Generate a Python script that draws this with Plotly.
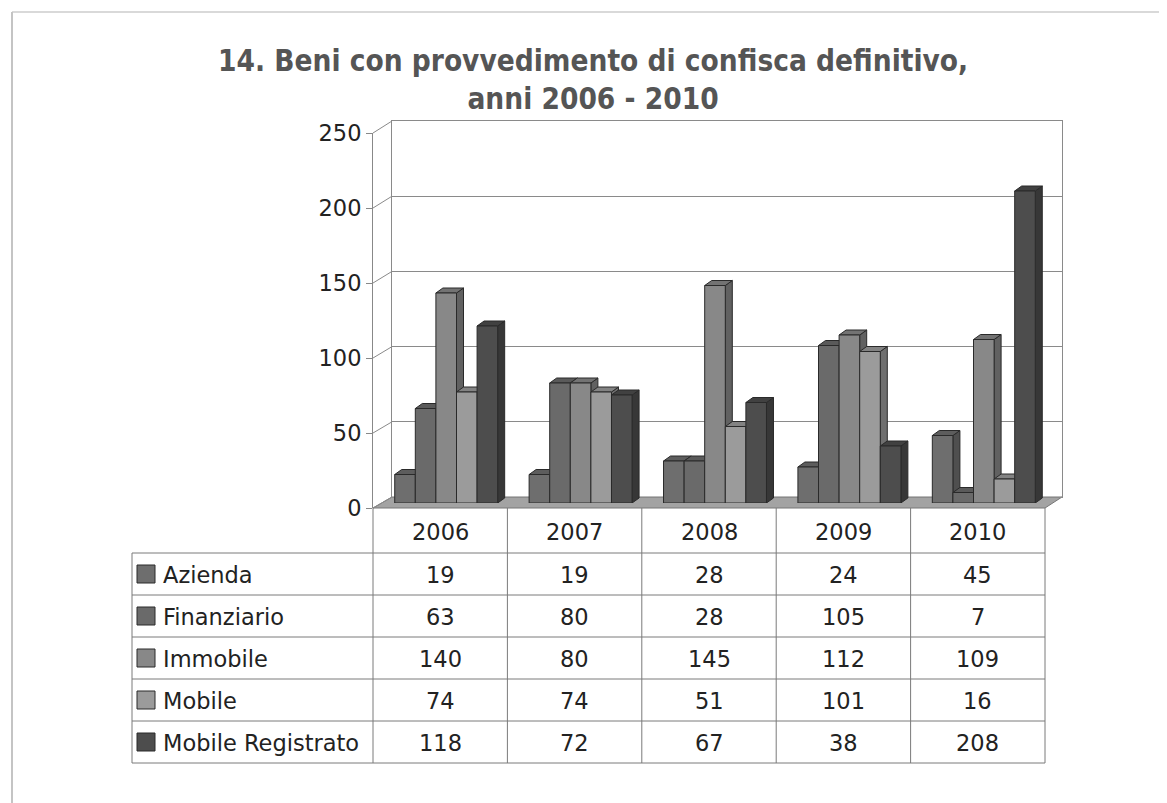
import plotly.graph_objects as go

# ---------------- data ----------------
years = ["2006", "2007", "2008", "2009", "2010"]
series_names = ["Azienda", "Finanziario", "Immobile", "Mobile", "Mobile Registrato"]
azienda = [19, 19, 28, 24, 45]
finanziario = [63, 80, 28, 105, 7]
immobile = [140, 80, 145, 112, 109]
mobile = [74, 74, 51, 101, 16]
mobile_registrato = [118, 72, 67, 38, 208]
y_ticks = [0, 50, 100, 150, 200, 250]
title_text = "<b>14. Beni con provvedimento di confisca definitivo,<br>anni 2006 - 2010</b>"

series_values = [azienda, finanziario, immobile, mobile, mobile_registrato]
colors = ["#6e6e6e", "#6a6a6a", "#888888", "#9b9b9b", "#4d4d4d"]

# ---------------- geometry (window pixels; page body has an 8px margin) ----------------
OFF = 8
W, H = 1167, 803
def px(x): return (x - OFF) / W
def py(y): return 1 - (y - OFF) / H

FRONT_X, FRONT_Y0, FRONT_Y1 = 373, 508, 133     # front axis
BACK_X0, BACK_X1, BACK_Y0, BACK_Y1 = 392, 1062, 497, 121  # back wall
FRONT_XR = 1045
BAR_X0, BAR_X1, BAR_Y0, BAR_Y1 = 379, 1051, 503, 128    # bar plane
DEPTH_PX_X, DEPTH_PX_Y = 7, 5
BARGAP = 0.234
YMAX = 250

FONT = "DejaVu Sans"
FS = 22.5
TXT = "#222222"
GRID = "#8a8a8a"

def darker(hexc, f):
    r, g, b = int(hexc[1:3], 16), int(hexc[3:5], 16), int(hexc[5:7], 16)
    return "#%02x%02x%02x" % (int(r * f), int(g * f), int(b * f))

fig = go.Figure()

# empty traces so that the wall and front-axis subplots get drawn
fig.add_trace(go.Scatter(x=[None], y=[None], xaxis="x", yaxis="y", showlegend=False, hoverinfo="skip"))
fig.add_trace(go.Scatter(x=[None], y=[None], xaxis="x2", yaxis="y2", showlegend=False, hoverinfo="skip"))

n_cat = len(years)
n_ser = len(series_names)
for k, (name, vals) in enumerate(zip(series_names, series_values)):
    fig.add_trace(go.Bar(
        x=list(range(n_cat)), y=vals, name=name,
        marker=dict(color=colors[k], line=dict(color="#2a2a2a", width=1)),
        xaxis="x3", yaxis="y3", showlegend=False,
        hovertemplate=name + " %{customdata}: %{y}<extra></extra>",
        customdata=years,
    ))

shapes = []

# depth faces of bars (drawn below traces so neighbouring front faces hide them)
unit_px = (BAR_X1 - BAR_X0) / n_cat
dx = DEPTH_PX_X / unit_px
dy = DEPTH_PX_Y * YMAX / (BAR_Y0 - BAR_Y1)
bw = (1 - BARGAP) / n_ser
for k, vals in enumerate(series_values):
    side_c = darker(colors[k], 0.72)
    top_c = darker(colors[k], 0.85)
    for i, v in enumerate(vals):
        xl = i - (1 - BARGAP) / 2 + bw * k
        xr = xl + bw
        side = f"M {xr} 0 L {xr} {v} L {xr+dx} {v+dy} L {xr+dx} {dy} Z"
        top = f"M {xl} {v} L {xr} {v} L {xr+dx} {v+dy} L {xl+dx} {v+dy} Z"
        for path, c in ((side, side_c), (top, top_c)):
            shapes.append(dict(type="path", path=path, xref="x3", yref="y3",
                               fillcolor=c, line=dict(color="#2a2a2a", width=1),
                               layer="below"))

# floor
floor = (f"M {px(FRONT_X)} {py(FRONT_Y0)} L {px(FRONT_XR)} {py(FRONT_Y0)} "
         f"L {px(BACK_X1)} {py(BACK_Y0)} L {px(BACK_X0)} {py(BACK_Y0)} Z")
shapes.append(dict(type="path", path=floor, xref="paper", yref="paper",
                   fillcolor="#a3a3a3", line=dict(color="#777777", width=1), layer="below"))

# side wall diagonals
for t in y_ticks:
    yf = FRONT_Y0 - (FRONT_Y0 - FRONT_Y1) * t / YMAX
    yb = BACK_Y0 - (BACK_Y0 - BACK_Y1) * t / YMAX
    shapes.append(dict(type="line", xref="paper", yref="paper",
                       x0=px(FRONT_X), y0=py(yf), x1=px(BACK_X0), y1=py(yb),
                       line=dict(color=GRID, width=1), layer="below"))

# table grid
TAB_L = 132
ROW_TOP = 553
ROW_H = 42
HEAD_TOP = 508
col_w = (FRONT_XR - FRONT_X) / n_cat
col_edges = [FRONT_X + col_w * j for j in range(n_cat + 1)]
TAB_B = ROW_TOP + ROW_H * n_ser
TLINE = dict(color="#7a7a7a", width=1)
for r in range(n_ser + 1):
    yy = ROW_TOP + ROW_H * r
    shapes.append(dict(type="line", xref="paper", yref="paper",
                       x0=px(TAB_L), x1=px(FRONT_XR), y0=py(yy), y1=py(yy), line=TLINE))
shapes.append(dict(type="line", xref="paper", yref="paper",
                   x0=px(TAB_L), x1=px(TAB_L), y0=py(ROW_TOP), y1=py(TAB_B), line=TLINE))
for xe in col_edges:
    shapes.append(dict(type="line", xref="paper", yref="paper",
                       x0=px(xe), x1=px(xe), y0=py(HEAD_TOP), y1=py(TAB_B), line=TLINE))

# outer frame
shapes.append(dict(type="line", xref="paper", yref="paper", x0=px(12), x1=1,
                   y0=py(12), y1=py(12), line=dict(color="#cccccc", width=1.5)))
shapes.append(dict(type="line", xref="paper", yref="paper", x0=px(12), x1=px(12),
                   y0=py(12), y1=0, line=dict(color="#c4c4c4", width=2)))

annotations = []
# title
annotations.append(dict(text=title_text, x=px(593), y=py(80), xref="paper", yref="paper",
                        showarrow=False, xanchor="center", yanchor="middle",
                        font=dict(family="DejaVu Sans Condensed, DejaVu Sans", size=29.5, color="#555555")))
# header years
for j, yr in enumerate(years):
    annotations.append(dict(text=yr, x=px(col_edges[j] + col_w / 2), y=py((HEAD_TOP + ROW_TOP) / 2 + 1),
                            xref="paper", yref="paper", showarrow=False,
                            xanchor="center", yanchor="middle",
                            font=dict(family=FONT, size=FS, color=TXT)))
# rows
for r, (name, vals) in enumerate(zip(series_names, series_values)):
    yc = ROW_TOP + ROW_H * (r + 0.5)
    shapes.append(dict(type="rect", xref="paper", yref="paper",
                       x0=px(137), x1=px(155), y0=py(yc - 9), y1=py(yc + 9),
                       fillcolor=colors[r], line=dict(color="#2a2a2a", width=1)))
    annotations.append(dict(text=name, x=px(161), y=py(yc + 1), xref="paper", yref="paper",
                            showarrow=False, xanchor="left", yanchor="middle",
                            font=dict(family=FONT, size=FS, color=TXT)))
    for j, v in enumerate(vals):
        annotations.append(dict(text=str(v), x=px(col_edges[j] + col_w / 2), y=py(yc + 1),
                                xref="paper", yref="paper", showarrow=False,
                                xanchor="center", yanchor="middle",
                                font=dict(family=FONT, size=FS, color=TXT)))

fig.update_layout(
    width=W, height=H,
    margin=dict(l=0, r=0, t=0, b=0, autoexpand=False),
    paper_bgcolor="white", plot_bgcolor="rgba(0,0,0,0)",
    barmode="group", bargap=BARGAP, bargroupgap=0,
    # back wall
    xaxis=dict(domain=[px(BACK_X0), px(BACK_X1)], range=[0, 1], showgrid=False,
               showticklabels=False, ticks="", zeroline=False, automargin=False,
               showline=True, mirror=True, linecolor=GRID, linewidth=1, fixedrange=True),
    yaxis=dict(domain=[py(BACK_Y0), py(BACK_Y1)], range=[0, YMAX], tickvals=y_ticks,
               showgrid=True, gridcolor=GRID, gridwidth=1, showticklabels=False, ticks="",
               zeroline=False, showline=True, mirror=True, linecolor=GRID, fixedrange=True,
               automargin=False),
    # front axis
    xaxis2=dict(domain=[px(FRONT_X), px(FRONT_XR)], range=[0, 1], visible=False, anchor="y2",
                fixedrange=True, automargin=False),
    yaxis2=dict(domain=[py(FRONT_Y0), py(FRONT_Y1)], range=[0, YMAX], anchor="x2",
                tickvals=y_ticks, ticks="outside", ticklen=6, tickcolor="#888888",
                showline=True, linecolor="#888888", showgrid=False, zeroline=False,
                tickfont=dict(family=FONT, size=FS, color=TXT), fixedrange=True,
                automargin=False),
    # bars
    xaxis3=dict(domain=[px(BAR_X0), px(BAR_X1)], range=[-0.5, n_cat - 0.5], visible=False,
                anchor="y3", fixedrange=True, automargin=False),
    yaxis3=dict(domain=[py(BAR_Y0), py(BAR_Y1)], range=[0, YMAX], visible=False,
                anchor="x3", fixedrange=True, automargin=False),
    shapes=shapes,
    annotations=annotations,
    showlegend=False,
)

fig.write_html("out.html")
